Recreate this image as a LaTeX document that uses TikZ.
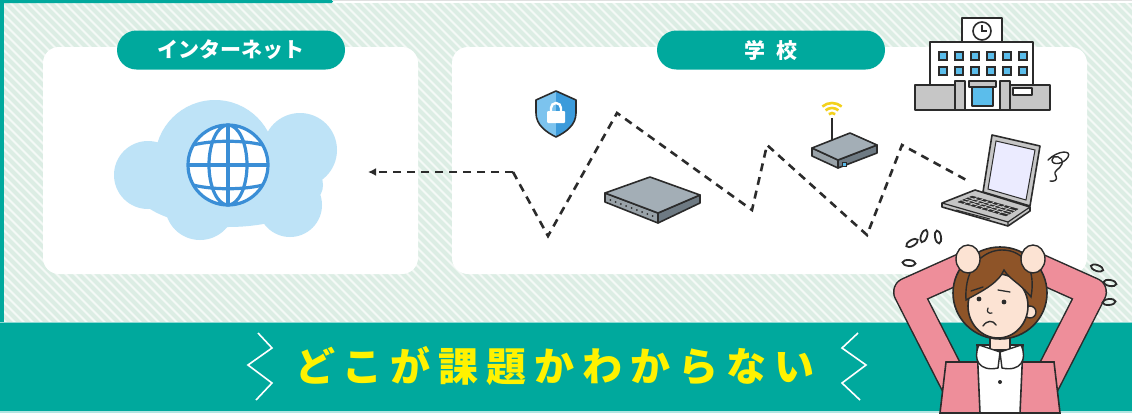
\documentclass[tikz,border=0pt]{standalone}
\usepackage{fontspec}
\newfontfamily\jp{Noto Sans CJK JP}
\newfontfamily\jpwide{Noto Sans CJK JP}[LetterSpace=20]
\usetikzlibrary{arrows.meta, positioning, calc}

\definecolor{teal1}{HTML}{00A99D}
\definecolor{stripe}{HTML}{DCEDE4}
\definecolor{stripebg}{HTML}{F4F9F6}
\definecolor{cloudblue}{HTML}{BEE3F7}
\definecolor{globeblue}{HTML}{3A8ED6}
\definecolor{ink}{HTML}{2B2B2B}
\definecolor{devtop}{HTML}{A3AEB6}
\definecolor{devside}{HTML}{6E7A83}
\definecolor{winblue}{HTML}{5BBDEB}
\definecolor{wifiyellow}{HTML}{F3D11C}
\definecolor{cardigan}{HTML}{EE8E9A}
\definecolor{hairbrown}{HTML}{8E5428}
\definecolor{skin}{HTML}{FCE3D3}
\definecolor{titleyellow}{HTML}{FFF200}
\definecolor{wallgrey}{HTML}{C6C6C6}
\definecolor{shieldlight}{HTML}{7CC3EE}
\definecolor{shielddark}{HTML}{3C9BDB}

\begin{document}
\begin{tikzpicture}[x=1pt, y=-1pt,
  panel/.style={fill=white, rounded corners=16pt},
  pill/.style={fill=teal1, rounded corners=19.5pt, minimum width=228pt, minimum height=39pt,
    inner sep=0pt, text=white, font=\jp\bfseries\fontsize{21}{21}\selectfont},
  wire/.style={ink, line width=2.6pt, dash pattern=on 8pt off 6pt},
  dev/.style={draw=ink, line width=1.6pt, line join=round},
  shout/.style={white, line width=1.6pt, line join=miter},
  sweat/.style={draw=ink, line width=1.8pt}]

\useasboundingbox (0,0) rectangle (1132,413);
\fill[white] (0,0) rectangle (1132,413);

% striped backdrop
\fill[stripebg] (4,3) rectangle (1132,322);
\begin{scope}
  \clip (4,3) rectangle (1132,322);
  \foreach \x in {-330,-321,...,1132}
    \draw[stripe, line width=4pt] (\x,0) -- ++(330,330);
\end{scope}
\draw[black!12, line width=0.6pt] (333,0.5) -- (1132,0.5);
\fill[teal1] (0,0) rectangle (4,322);
\fill[teal1, rounded corners=1.5pt] (0,0) rectangle (333,3);

% bottom band
\fill[teal1] (0,322) rectangle (1132,411);
\draw[teal1!45, line width=1pt] (0,322.5) -- (1132,322.5);
\fill[teal1!30] (0,411) rectangle (1132,413);

% panels and their titles
\fill[panel] (43,47) rectangle (418,274);
\fill[panel] (452,47) rectangle (1087,274);
\node[pill] (inet) at (231,50) {インターネット};
\node[pill] (school) at (771,50) {学\hspace{0.55em}校};

% cloud with globe
\coordinate (cloud) at (228,170);
\fill[cloudblue] (215,160) circle (60) (300,150) circle (37) (148,175) circle (34)
  (200,205) circle (35) (290,205) circle (32)
  (228,185) ellipse (95 and 42);
\node[circle, draw=globeblue, fill=white, line width=3.2pt, minimum size=80pt] (globe) at (228,165) {};
\begin{scope}[shift={(globe.center)}, globeblue, line width=3.2pt]
  \draw (0,-40) -- (0,40) (-40,0) -- (40,0);
  \draw (0,0) ellipse (19 and 40);
  \draw (-35,-20) .. controls (-15,-25) and (15,-25) .. (35,-20);
  \draw (-35,20) .. controls (-15,25) and (15,25) .. (35,20);
\end{scope}

% the connection through the school network
\coordinate (tip) at (368,172);
\coordinate (w0) at (513,172);
\coordinate (w1) at (548,236);
\coordinate (w2) at (617,113);
\coordinate (w3) at (752,210);
\coordinate (w4) at (767,145);
\coordinate (w5) at (867,235);
\coordinate (w6) at (902,145);
\coordinate (w7) at (970,182);
\draw[wire, -{Latex[length=8pt,width=8pt]}] (w0) -- (tip);
\draw[wire] (w0) -- (w1) -- (w2) -- (w3) -- (w4) -- (w5) -- (w6) -- (w7);

% security shield
\coordinate (shield) at (556,113);
\begin{scope}[shift={(shield)}]
  \fill[shieldlight] (0,-22) -- (-20,-13) -- (-20,0) .. controls (-20,12) and (-10,19) .. (0,24) -- cycle;
  \fill[shielddark] (0,-22) -- (20,-13) -- (20,0) .. controls (20,12) and (10,19) .. (0,24) -- cycle;
  \draw[dev] (0,-22) -- (-20,-13) -- (-20,0) .. controls (-20,12) and (-10,19) .. (0,24)
    .. controls (10,19) and (20,12) .. (20,0) -- (20,-13) -- cycle;
  \draw[white, line width=2.4pt] (-5,-1) -- (-5,-5) arc (180:360:5) -- (5,-1);
  \fill[white, rounded corners=1pt] (-9,-2) rectangle (9,10);
\end{scope}

% switching hub
\coordinate (hubL) at (605,193);
\coordinate (hubB) at (650,177);
\coordinate (hubR) at (700,195);
\coordinate (hubF) at (658,213);
\filldraw[dev, fill=devside!70] (hubL) -- (hubF) -- ++(0,10) -- ($(hubL)+(0,9)$) -- cycle;
\filldraw[dev, fill=devside] (hubF) -- (hubR) -- ++(0,8) -- ($(hubF)+(0,10)$) -- cycle;
\filldraw[dev, fill=devtop] (hubL) -- (hubB) -- (hubR) -- (hubF) -- cycle;
\foreach \t in {1,...,9}
  \fill[ink] ($(hubL)!\t/10!(hubF)+(0,5)$) circle (1pt);

% wireless router
\coordinate (rtL) at (812,148);
\coordinate (rtB) at (850,133);
\coordinate (rtR) at (877,145);
\coordinate (rtF) at (838,160);
\draw[ink, line width=1.6pt] (832,140) -- (832,118);
\foreach \r in {5,10,15}
  \draw[wifiyellow, line width=2.6pt] (832,118) ++(-130:\r) arc (-130:-50:\r);
\filldraw[dev, fill=devside!70] (rtL) -- (rtF) -- ++(0,8) -- ($(rtL)+(0,8)$) -- cycle;
\filldraw[dev, fill=devside] (rtF) -- (rtR) -- ++(0,8) -- ($(rtF)+(0,8)$) -- cycle;
\filldraw[dev, fill=devtop] (rtL) -- (rtB) -- (rtR) -- (rtF) -- cycle;
\filldraw[fill=winblue, draw=ink, line width=0.6pt] (842,162) rectangle (846,166);

% school building
\coordinate (bld) at (983,65);
\filldraw[dev, fill=white] (962,18) rectangle (1002,42);
\filldraw[dev, fill=white] (982,31) circle (9);
\draw[ink, line width=1.4pt] (982,25) -- (982,31) -- (987,31);
\filldraw[dev, fill=white] (930,42) rectangle (1033,110);
\foreach \cx in {943,959,975,991,1007,1023}
  \foreach \cy in {56,71}
    \filldraw[fill=winblue, draw=ink, line width=1.2pt] (\cx-4,\cy-4) rectangle (\cx+4,\cy+4);
\filldraw[dev, fill=wallgrey] (915,85) rectangle (957,110);
\filldraw[dev, fill=wallgrey] (1008,85) rectangle (1050,110);
\filldraw[dev, fill=wallgrey] (955,81) rectangle (965,110);
\filldraw[dev, fill=wallgrey] (1000,81) rectangle (1010,110);
\filldraw[dev, fill=winblue] (972,86) rectangle (993,106);
\filldraw[dev, fill=wallgrey] (969,81) rectangle (996,87);
\filldraw[dev, fill=white] (1013,88) rectangle (1032,95);

% laptop
\coordinate (laptop) at (990,180);
\filldraw[dev, fill=wallgrey] (975,190) -- (1030,207) -- (1030,211) -- (1008,226) -- (942,207) -- (942,203) -- cycle;
\draw[ink, line width=1.2pt] (942,203) -- (1008,222) -- (1030,207) (1008,222) -- (1008,226);
\filldraw[ink] (972,196) -- (1018,209) -- (1006,216) -- (958,202) -- cycle;
\foreach \t in {0.25,0.5,0.75}
  \draw[wallgrey, line width=0.8pt] ($(972,196)!\t!(958,202)$) -- ($(1018,209)!\t!(1006,216)$);
\foreach \t in {0.12,0.24,...,0.9}
  \draw[wallgrey, line width=0.8pt] ($(972,196)!\t!(1018,209)$) -- ($(958,202)!\t!(1006,216)$);
\draw[ink, line width=1pt] (956,210) -- (990,219);
\filldraw[dev, fill=wallgrey] (992,135) -- (1040,146) -- (1030,206) -- (983,192) -- cycle;
\filldraw[fill=blue!8, draw=ink, line width=1pt] (996,141) -- (1035,150) -- (1026,200) -- (988,189) -- cycle;
\draw[ink, line width=1.4pt, line cap=round] (1048,160) .. controls (1058,150) and (1072,150) .. (1068,157)
  .. controls (1064,164) and (1052,166) .. (1052,160) .. controls (1052,154) and (1064,156) .. (1062,164)
  .. controls (1060,170) and (1052,170) .. (1056,176) .. controls (1058,180) and (1054,182) .. (1050,181);

% puzzled woman
\coordinate (woman) at (1000,330);
\foreach \w/\c in {30pt/ink, 27pt/cardigan}
  \draw[\c, line width=\w, line join=round, line cap=round]
    (966,266) -- (908,292) -- (958,390) (1034,266) -- (1092,292) -- (1042,390);
\filldraw[draw=ink, fill=cardigan, line width=1.6pt] (946,362) -- (1054,362) -- (1060,413) -- (940,413) -- cycle;
\filldraw[draw=ink, fill=white, line width=1.6pt] (977,345) -- (1023,345) -- (1020,413) -- (980,413) -- cycle;
\filldraw[draw=ink, fill=skin, line width=1.4pt] (990,328) rectangle (1010,350);
\filldraw[draw=ink, fill=white, line width=1.4pt] (979,345) .. controls (972,360) and (980,372) .. (998,368) -- (1000,352) -- cycle;
\filldraw[draw=ink, fill=white, line width=1.4pt] (1021,345) .. controls (1028,360) and (1020,372) .. (1002,368) -- (1000,352) -- cycle;
\fill[ink] (1000,382) circle (2);
\filldraw[draw=ink, fill=hairbrown, line width=1.6pt] (1000,293) ellipse (47 and 46);
\filldraw[draw=ink, fill=skin, line width=1.4pt] (1030,312) circle (6);
\filldraw[draw=ink, fill=skin, line width=1.6pt] (998,306) ellipse (30 and 32);
\filldraw[draw=ink, fill=hairbrown, line width=1.4pt] (966,300) .. controls (964,265) and (985,250) .. (1002,250)
  .. controls (1025,250) and (1036,270) .. (1031,297) .. controls (1020,283) and (1010,280) .. (1004,270)
  .. controls (998,284) and (980,292) .. (966,300) -- cycle;
\filldraw[draw=ink, fill=skin, line width=1.4pt] (968,259) ellipse (12 and 14);
\filldraw[draw=ink, fill=skin, line width=1.4pt] (1033,259) ellipse (12 and 14);
\fill[ink] (979,299) circle (2.4) (1004,302) circle (2.4);
\draw[ink, line width=1.3pt, line cap=round] (971,291) -- (983,287) (998,290) -- (1010,292);
\draw[ink, line width=1.2pt, line cap=round] (988,308) .. controls (986,312) and (989,314) .. (992,313);
\draw[ink, line width=1.4pt, line cap=round] (983,326) .. controls (987,320) and (993,320) .. (996,325);
\draw[sweat, rotate around={-60:(912,243)}] (912,243) ellipse (3 and 6.5);
\draw[sweat, rotate around={-20:(924,236)}] (924,236) ellipse (3 and 6.5);
\draw[sweat, rotate around={10:(938,237)}] (938,237) ellipse (3 and 6.5);
\draw[sweat, rotate around={-95:(909,263)}] (909,263) ellipse (3 and 6.5);
\draw[sweat, rotate around={70:(1097,268)}] (1097,268) ellipse (3 and 6.5);
\draw[sweat, rotate around={80:(1110,283)}] (1110,283) ellipse (3 and 6.5);
\draw[sweat, rotate around={95:(1109,302)}] (1109,302) ellipse (3 and 6.5);

% headline
\node[font=\jpwide\bfseries\fontsize{40}{40}\selectfont, text=titleyellow] (headline) at (555,366) {どこが課題かわからない};
\draw[shout] (258,333) -- (272,348) -- (248,365) -- (272,383) -- (256,400);
\draw[shout] (858,333) -- (842,348) -- (866,365) -- (842,383) -- (860,400);
\end{tikzpicture}
\end{document}
